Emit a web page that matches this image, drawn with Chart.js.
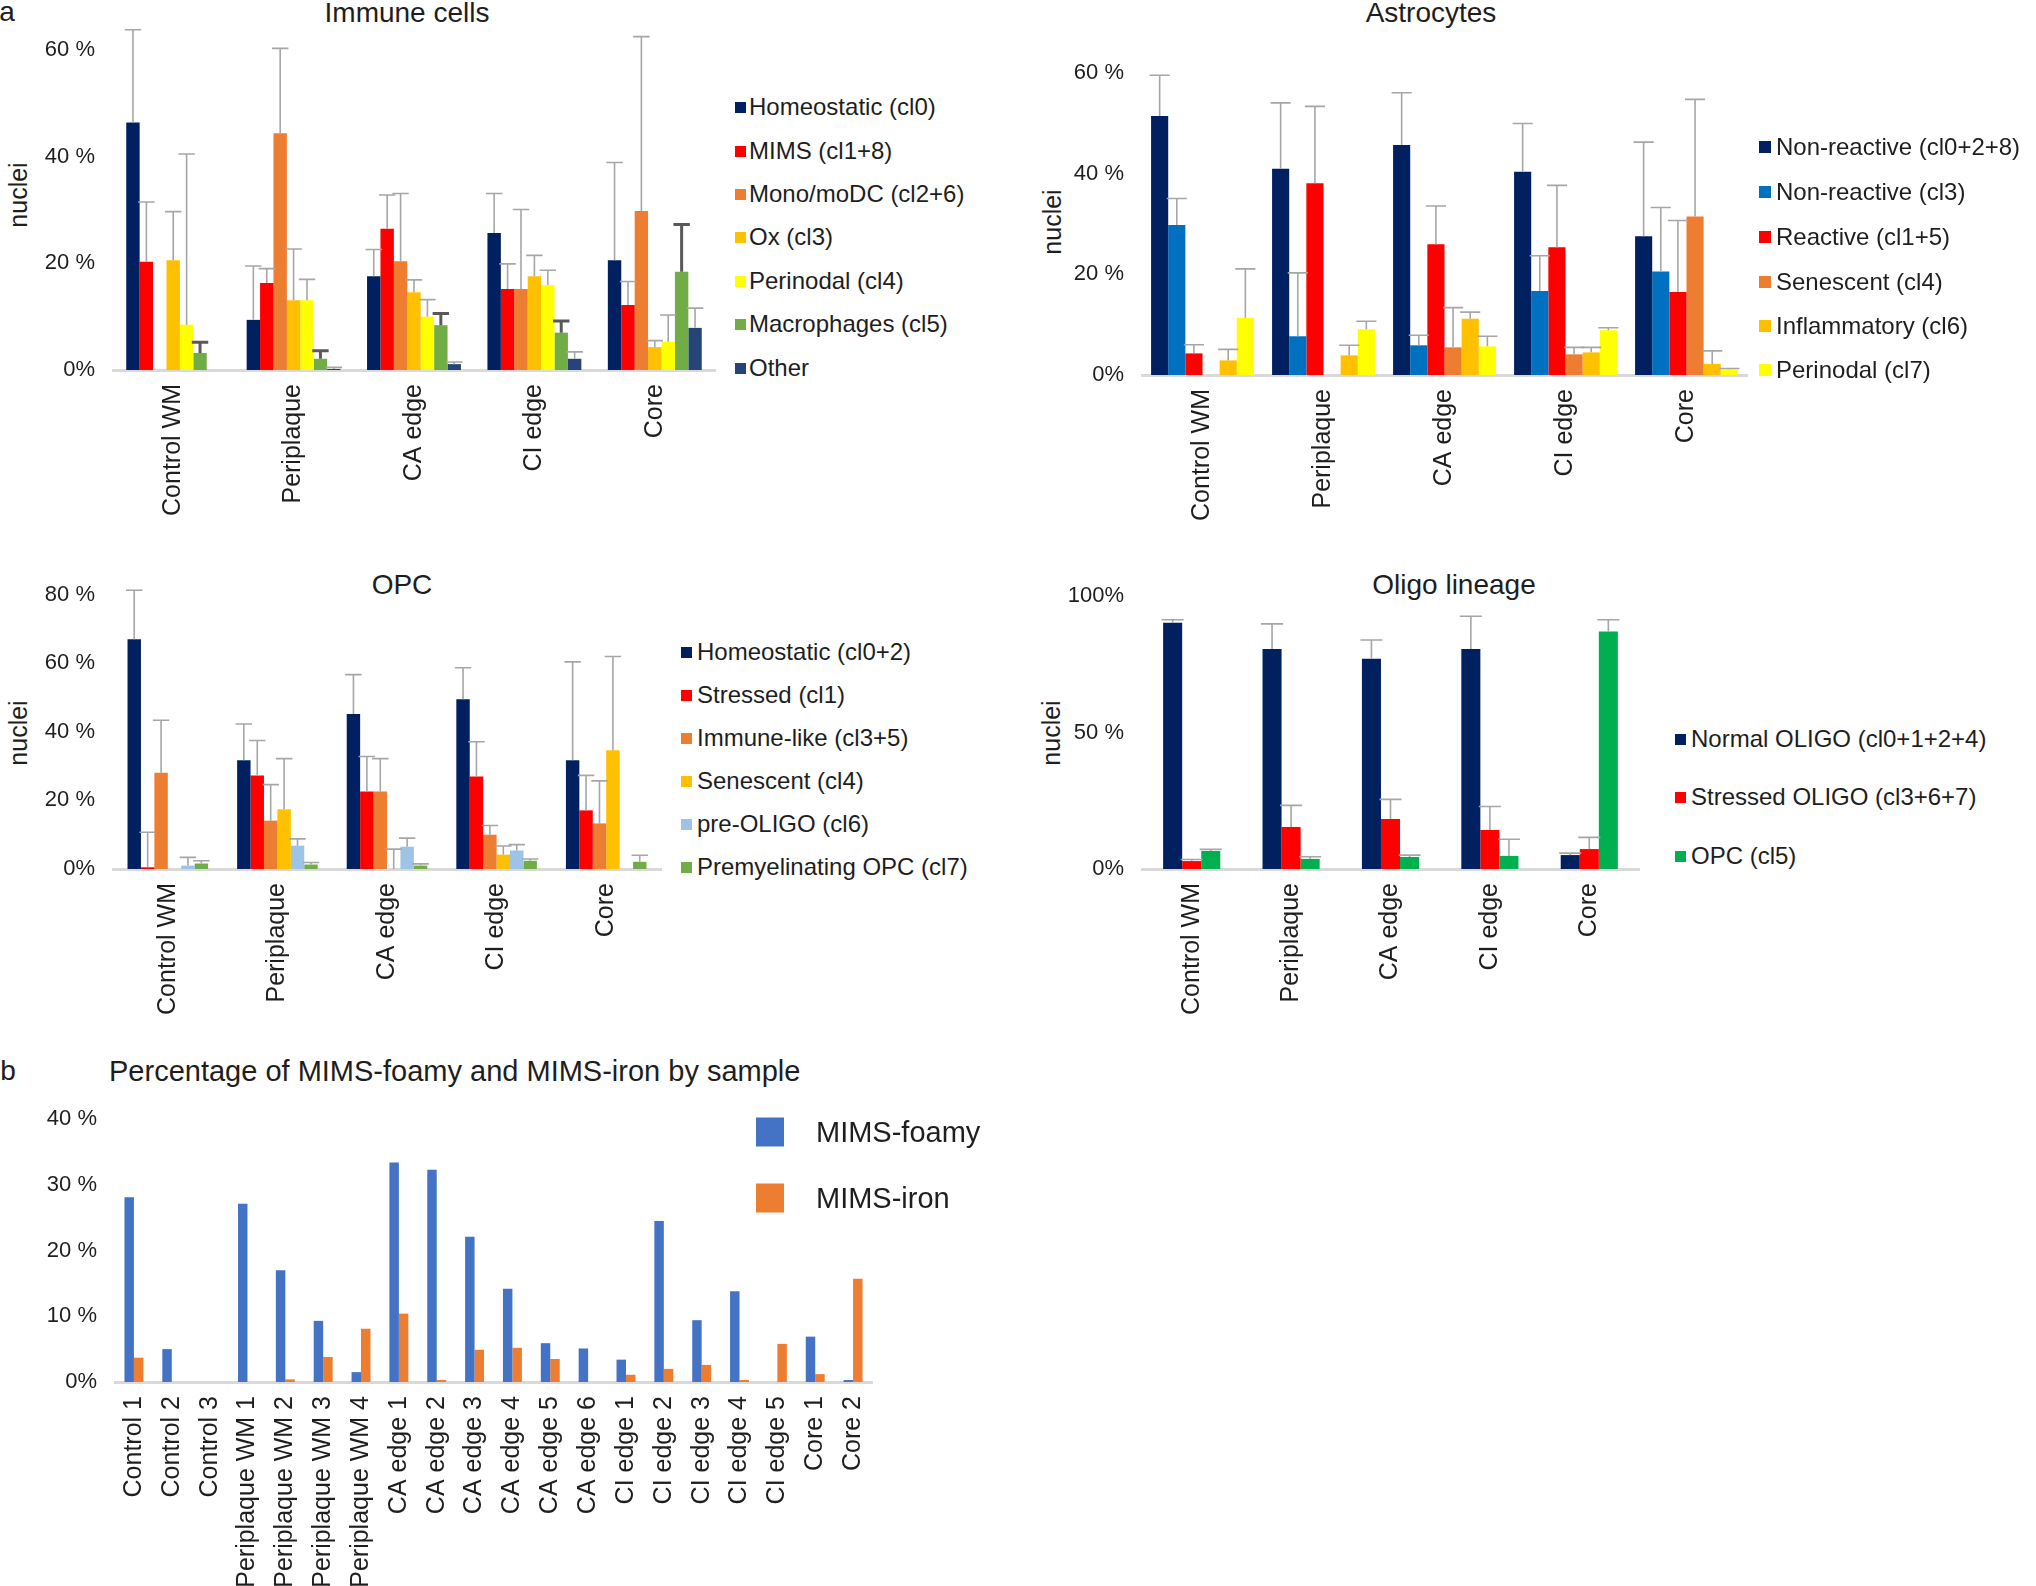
<!DOCTYPE html>
<html>
<head>
<meta charset="utf-8">
<title>Cell states by region</title>
<script src="https://cdn.jsdelivr.net/npm/chart.js@4.4.1/dist/chart.umd.min.js"></script>
<style>
  html, body { margin: 0; padding: 0; background: #fff; }
  body { width: 2036px; height: 1586px; position: relative; overflow: hidden;
         font-family: "Liberation Sans", Arial, sans-serif; color: #1e1e1e; }
  .panel { position: absolute; }
  .panel canvas { width: 100%; height: 100%; }
  .txt { position: absolute; white-space: nowrap; line-height: 1; }
  .center { transform: translate(-50%, -50%); }
  .vcenter { transform: translateY(-50%); }
  .ylab { font-size: 25px; transform: translate(-50%, -50%) rotate(-90deg); }
  .item { position: absolute; white-space: nowrap; line-height: 1; display: flex; align-items: center; transform: translateY(-50%); }
  .sw { display: inline-block; flex: none; }
</style>
</head>
<body>

<div class="txt center" style="left:7px; top:12px; font-size:28px;">a</div>
<div class="txt center" style="left:407px; top:13px; font-size:28px;">Immune cells</div>
<div class="txt center" style="left:1431px; top:13px; font-size:28px;">Astrocytes</div>
<div class="txt center" style="left:402px; top:585px; font-size:28px;">OPC</div>
<div class="txt center" style="left:1454px; top:585px; font-size:28px;">Oligo lineage</div>
<div class="txt center" style="left:8px; top:1071px; font-size:28px;">b</div>
<div class="txt vcenter" style="left:109px; top:1071px; font-size:29px;">Percentage of MIMS-foamy and MIMS-iron by sample</div>

<div class="txt ylab" style="left:18px; top:195px;">nuclei</div>
<div class="txt ylab" style="left:1052px; top:222px;">nuclei</div>
<div class="txt ylab" style="left:18px; top:733px;">nuclei</div>
<div class="txt ylab" style="left:1051px; top:733px;">nuclei</div>

<div class="panel" style="left:0; top:0; width:730px; height:540px;"><canvas id="immune"></canvas></div>
<div class="panel" style="left:1040px; top:0; width:740px; height:540px;"><canvas id="astro"></canvas></div>
<div class="panel" style="left:0; top:560px; width:680px; height:480px;"><canvas id="opc"></canvas></div>
<div class="panel" style="left:1040px; top:560px; width:620px; height:480px;"><canvas id="oligo"></canvas></div>
<div class="panel" style="left:0; top:1090px; width:900px; height:496px;"><canvas id="mims"></canvas></div>

<script>
// ---- data (% of nuclei; *Err = top of the error bar) ----
const regions = ['Control WM', 'Periplaque', 'CA edge', 'CI edge', 'Core']

// a, Immune cells
const immuneSeries = ['Homeostatic (cl0)', 'MIMS (cl1+8)', 'Mono/moDC (cl2+6)', 'Ox (cl3)',
  'Perinodal (cl4)', 'Macrophages (cl5)', 'Other']
const immHomeostatic = [46.4, 9.4, 17.6, 25.7, 20.6]
const immHomeostaticErr = [63.8, 19.5, 22.6, 33.1, 38.9]
const immMims = [20.3, 16.3, 26.5, 15.2, 12.2]
const immMimsErr = [31.5, 19.0, 32.8, 19.9, 16.6]
const immMono = [0, 44.4, 20.4, 15.2, 29.8]
const immMonoErr = [null, 60.3, 33.1, 30.1, 62.5]
const immOx = [20.6, 13.1, 14.6, 17.6, 4.3]
const immOxErr = [29.7, 22.7, 16.9, 21.5, 5.5]
const immPerinodal = [8.5, 13.1, 10.0, 15.9, 5.3]
const immPerinodalErr = [40.5, 17.0, 13.2, 18.7, 10.3]
const immMacrophages = [3.2, 2.1, 8.4, 7.0, 18.4]
const immMacrophagesErr = [5.2, 3.6, 10.6, 9.2, 27.3]
const immOther = [0, 0.2, 1.1, 2.1, 7.9]
const immOtherErr = [null, 0.5, 1.5, 3.4, 11.6]
const immuneYTicks = [0, 20, 40, 60]
const immuneYLabels = ['0%', '20 %', '40 %', '60 %']

// a, Astrocytes
const astroSeries = ['Non-reactive (cl0+2+8)', 'Non-reactive (cl3)', 'Reactive (cl1+5)',
  'Senescent (cl4)', 'Inflammatory (cl6)', 'Perinodal (cl7)']
const astNonReactive = [51.5, 41.0, 45.7, 40.4, 27.6]
const astNonReactiveErr = [59.6, 54.1, 56.1, 50.0, 46.3]
const astNonReactive3 = [29.8, 7.7, 5.9, 16.7, 20.6]
const astNonReactive3Err = [35.1, 20.3, 7.9, 23.7, 33.3]
const astReactive = [4.3, 38.1, 26.0, 25.4, 16.5]
const astReactiveErr = [6.0, 53.4, 33.6, 37.7, 30.7]
const astSenescent = [0, 0, 5.5, 4.1, 31.5]
const astSenescentErr = [null, null, 13.4, 5.5, 54.8]
const astInflammatory = [2.9, 3.9, 11.2, 4.5, 2.2]
const astInflammatoryErr = [5.1, 5.9, 12.5, 5.5, 4.8]
const astPerinodal = [11.4, 9.1, 5.7, 8.9, 1.1]
const astPerinodalErr = [21.1, 10.7, 7.7, 9.4, 1.3]
const astroYTicks = [0, 20, 40, 60]
const astroYLabels = ['0%', '20 %', '40 %', '60 %']

// a, OPC
const opcSeries = ['Homeostatic (cl0+2)', 'Stressed (cl1)', 'Immune-like (cl3+5)',
  'Senescent (cl4)', 'pre-OLIGO (cl6)', 'Premyelinating OPC (cl7)']
const opcHomeostatic = [67.0, 31.7, 45.2, 49.5, 31.7]
const opcHomeostaticErr = [81.3, 42.3, 56.7, 58.7, 60.4]
const opcStressed = [0.5, 27.3, 22.6, 27.0, 17.1]
const opcStressedErr = [10.7, 37.5, 32.8, 37.1, 27.3]
const opcImmuneLike = [28.1, 14.1, 22.6, 10.0, 13.3]
const opcImmuneLikeErr = [43.4, 24.6, 32.2, 12.7, 25.7]
const opcSenescent = [0, 17.4, 0, 4.2, 34.6]
const opcSenescentErr = [null, 32.2, 5.8, 6.7, 62.0]
const opcPreOligo = [1.0, 6.8, 6.5, 5.4, 0]
const opcPreOligoErr = [3.4, 8.8, 9.0, 7.1, null]
const opcPremyelinating = [1.6, 1.3, 1.0, 2.4, 2.1]
const opcPremyelinatingErr = [2.4, 1.9, 1.5, 2.9, 4.0]
const opcYTicks = [0, 20, 40, 60, 80]
const opcYLabels = ['0%', '20 %', '40 %', '60 %', '80 %']

// a, Oligo lineage
const oligoSeries = ['Normal OLIGO (cl0+1+2+4)', 'Stressed OLIGO (cl3+6+7)', 'OPC (cl5)']
const oliNormal = [90.2, 80.6, 77.0, 80.6, 5.1]
const oliNormalErr = [91.3, 89.8, 83.9, 92.6, 5.8]
const oliStressed = [2.9, 15.4, 18.3, 14.3, 7.3]
const oliStressedErr = [3.5, 23.3, 25.5, 22.9, 11.6]
const oliOpc = [6.6, 3.7, 4.4, 4.8, 87.0]
const oliOpcErr = [7.2, 4.5, 5.1, 10.9, 91.3]
const oligoYTicks = [0, 50, 100]
const oligoYLabels = ['0%', '50 %', '100%']

// b, MIMS-foamy and MIMS-iron by sample
const samples = ['Control 1', 'Control 2', 'Control 3',
  'Periplaque WM 1', 'Periplaque WM 2', 'Periplaque WM 3', 'Periplaque WM 4',
  'CA edge 1', 'CA edge 2', 'CA edge 3', 'CA edge 4', 'CA edge 5', 'CA edge 6',
  'CI edge 1', 'CI edge 2', 'CI edge 3', 'CI edge 4', 'CI edge 5', 'Core 1', 'Core 2']
const mimsSeries = ['MIMS-foamy', 'MIMS-iron']
const mimsFoamy = [28.1, 5.0, 0, 27.1, 17.0, 9.3, 1.5, 33.4, 32.3, 22.1, 14.2, 5.9, 5.1,
  3.4, 24.5, 9.4, 13.8, 0, 6.9, 0.3]
const mimsIron = [3.7, 0, 0, 0, 0.4, 3.8, 8.1, 10.4, 0.3, 4.9, 5.2, 3.5, 0,
  1.1, 2.0, 2.6, 0.3, 5.8, 1.2, 15.7]
const mimsYTicks = [0, 10, 20, 30, 40]
const mimsYLabels = ['0%', '10 %', '20 %', '30 %', '40 %']

// ---- styling ----
const NAVY = '#002060', RED = '#ff0000', ORANGE = '#ed7d31', GOLD = '#ffc000',
  YELLOW = '#ffff00', GREEN = '#70ad47'
const immuneColors = [NAVY, RED, ORANGE, GOLD, YELLOW, GREEN, '#264478']
const astroColors = [NAVY, '#0070c0', RED, ORANGE, GOLD, YELLOW]
const opcColors = [NAVY, RED, ORANGE, GOLD, '#9dc3e6', GREEN]
const oligoColors = [NAVY, RED, '#00b050']
const mimsColors = ['#4472c4', ORANGE]
const TEXT = '#1e1e1e'

Chart.defaults.font.family = '"Liberation Sans", Arial, sans-serif'
Chart.defaults.color = TEXT

// Draws the upper error bar (line + cap) of every bar that has one.
const errorBars = {
  id: 'errorBars',
  afterDatasetsDraw(chart) {
    const ctx = chart.ctx
    const yScale = chart.scales.y
    chart.data.datasets.forEach((ds, i) => {
      if (!ds.errTop) return
      const meta = chart.getDatasetMeta(i)
      ctx.save()
      ctx.strokeStyle = ds.errColor
      ctx.lineWidth = ds.errWidth
      meta.data.forEach((bar, j) => {
        const top = ds.errTop[j]
        if (top == null) return
        const yt = yScale.getPixelForValue(top)
        const half = bar.width / 2 + 1.5
        ctx.beginPath()
        ctx.moveTo(bar.x, bar.y)
        ctx.lineTo(bar.x, yt)
        ctx.moveTo(bar.x - half, yt)
        ctx.lineTo(bar.x + half, yt)
        ctx.stroke()
      })
      ctx.restore()
    })
  },
}

function makeBarChart(id, cfg) {
  const dark = cfg.darkErr || []
  return new Chart(document.getElementById(id), {
    type: 'bar',
    data: {
      labels: cfg.labels,
      datasets: cfg.series.map((name, i) => ({
        label: name,
        data: cfg.values[i],
        errTop: cfg.errs ? cfg.errs[i] : null,
        errColor: dark.includes(i) ? '#595959' : '#a6a6a6',
        errWidth: dark.includes(i) ? 3 : 1.6,
        backgroundColor: cfg.colors[i],
        borderWidth: 0,
        barPercentage: 1,
        categoryPercentage: cfg.catPct,
      })),
    },
    options: {
      responsive: true,
      maintainAspectRatio: false,
      animation: false,
      devicePixelRatio: 1,
      layout: { padding: cfg.padding },
      plugins: { legend: { display: false }, tooltip: { enabled: false } },
      scales: {
        x: {
          grid: { display: false, drawTicks: false },
          border: { display: true, color: '#d9d9d9', width: 3 },
          // fixed height, and no extra side padding so the plot box stays where we put it
          afterFit: s => { s.height = cfg.xHeight; s.paddingLeft = 0; s.paddingRight = 0 },
          ticks: {
            minRotation: 90, maxRotation: 90, autoSkip: false, padding: 14,
            color: TEXT, font: { size: cfg.xFont || 25 },
          },
        },
        y: {
          min: 0,
          max: cfg.yMax,
          afterBuildTicks: s => { s.ticks = cfg.yTicks.map(v => ({ value: v })) },
          afterFit: s => { s.width = cfg.yWidth; s.paddingTop = 0; s.paddingBottom = 0 },
          grid: { display: false, drawTicks: false },
          border: { display: false },
          ticks: {
            padding: 18, color: TEXT, font: { size: 22 },
            callback: (v, i) => cfg.yLabels[i],
          },
        },
      },
    },
    plugins: [errorBars],
  })
}

// HTML legend: coloured square + label per series, rows at given page y
function addLegend(series, colors, x, textX, rows, fontSize, swW, swH) {
  series.forEach((name, i) => {
    const item = document.createElement('div')
    item.className = 'item'
    item.style.left = x + 'px'
    item.style.top = rows[i] + 'px'
    item.style.fontSize = fontSize + 'px'
    const sw = document.createElement('span')
    sw.className = 'sw'
    sw.style.width = swW + 'px'
    sw.style.height = swH + 'px'
    sw.style.background = colors[i]
    sw.style.marginRight = (textX - x - swW) + 'px'
    const t = document.createElement('span')
    t.textContent = name
    item.appendChild(sw)
    item.appendChild(t)
    document.body.appendChild(item)
  })
}

makeBarChart('immune', {
  labels: regions, series: immuneSeries, colors: immuneColors,
  values: [immHomeostatic, immMims, immMono, immOx, immPerinodal, immMacrophages, immOther],
  errs: [immHomeostaticErr, immMimsErr, immMonoErr, immOxErr, immPerinodalErr, immMacrophagesErr, immOtherErr],
  darkErr: [5],
  yMax: 66, yTicks: immuneYTicks, yLabels: immuneYLabels,
  catPct: 0.78, yWidth: 113, xHeight: 170,
  padding: { left: 0, right: 15, top: 18, bottom: 0 },
})
addLegend(immuneSeries, immuneColors, 735, 749, [107, 151, 194, 237, 281, 324, 368], 24, 11, 11)

makeBarChart('astro', {
  labels: regions, series: astroSeries, colors: astroColors,
  values: [astNonReactive, astNonReactive3, astReactive, astSenescent, astInflammatory, astPerinodal],
  errs: [astNonReactiveErr, astNonReactive3Err, astReactiveErr, astSenescentErr, astInflammatoryErr, astPerinodalErr],
  yMax: 66, yTicks: astroYTicks, yLabels: astroYLabels,
  catPct: 0.85, yWidth: 102, xHeight: 165,
  padding: { left: 0, right: 33, top: 43, bottom: 0 },
})
addLegend(astroSeries, astroColors, 1759, 1776, [147, 192, 237, 282, 326, 370], 24, 12, 12)

makeBarChart('opc', {
  labels: regions, series: opcSeries, colors: opcColors,
  values: [opcHomeostatic, opcStressed, opcImmuneLike, opcSenescent, opcPreOligo, opcPremyelinating],
  errs: [opcHomeostaticErr, opcStressedErr, opcImmuneLikeErr, opcSenescentErr, opcPreOligoErr, opcPremyelinatingErr],
  yMax: 84, yTicks: opcYTicks, yLabels: opcYLabels,
  catPct: 0.735, yWidth: 113, xHeight: 171,
  padding: { left: 0, right: 19, top: 21, bottom: 0 },
})
addLegend(opcSeries, opcColors, 681, 697, [652, 695, 738, 781, 824, 867], 24, 11, 11)

makeBarChart('oligo', {
  labels: regions, series: oligoSeries, colors: oligoColors,
  values: [oliNormal, oliStressed, oliOpc],
  errs: [oliNormalErr, oliStressedErr, oliOpcErr],
  yMax: 100, yTicks: oligoYTicks, yLabels: oligoYLabels,
  catPct: 0.575, yWidth: 102, xHeight: 171,
  padding: { left: 0, right: 21, top: 36, bottom: 0 },
})
addLegend(oligoSeries, oligoColors, 1675, 1691, [739, 797, 856], 24, 11, 11)

makeBarChart('mims', {
  labels: samples, series: mimsSeries, colors: mimsColors,
  values: [mimsFoamy, mimsIron],
  yMax: 40, yTicks: mimsYTicks, yLabels: mimsYLabels,
  catPct: 0.5, yWidth: 115, xHeight: 204, xFont: 25,
  padding: { left: 0, right: 28, top: 29, bottom: 0 },
})
addLegend(mimsSeries, mimsColors, 756, 816, [1132, 1198], 29, 28, 29)
</script>
</body>
</html>
